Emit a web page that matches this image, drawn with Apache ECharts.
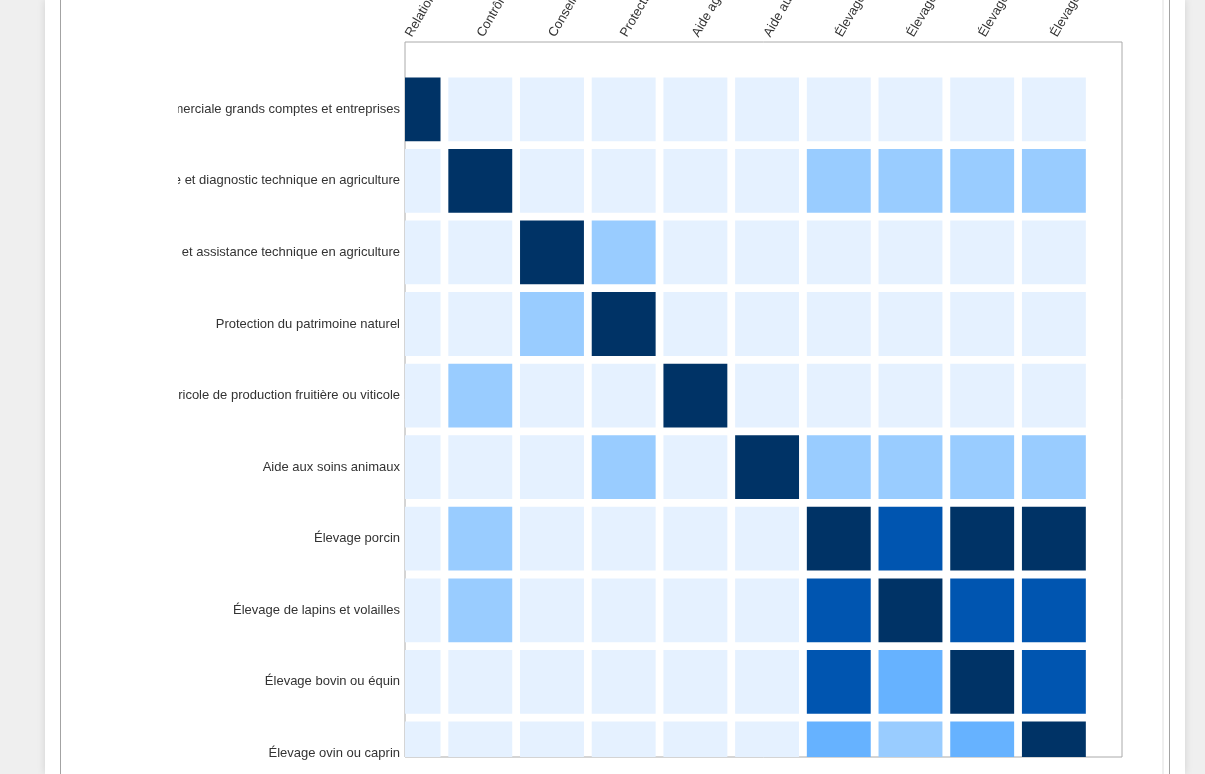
<!DOCTYPE html>
<html>
<head>
<meta charset="utf-8">
<script src="https://cdn.jsdelivr.net/npm/echarts@6/dist/echarts.min.js"></script>
<style>
html,body{margin:0;padding:0;width:1205px;height:774px;overflow:hidden;background:#efefef;}
#card{position:absolute;left:45px;top:0;width:1140px;height:774px;background:#fff;box-shadow:0 0 8px rgba(0,0,0,0.12);}
#frame{position:absolute;left:60px;top:0;width:1108px;height:774px;border-left:1px solid #a3a3a3;border-right:1px solid #a3a3a3;}
#faint{position:absolute;left:1162px;top:0;width:2px;height:774px;background:#efefef;}
#chart{position:absolute;left:178px;top:0;width:982px;height:774px;}
</style>
</head>
<body>
<div id="card"></div>
<div id="frame"></div>
<div id="faint"></div>
<div id="chart"></div>
<script>
// Categories (same for rows and columns)
var categories = [
  "Relation commerciale grands comptes et entreprises",
  "Contrôle et diagnostic technique en agriculture",
  "Conseil et assistance technique en agriculture",
  "Protection du patrimoine naturel",
  "Aide agricole de production fruitière ou viticole",
  "Aide aux soins animaux",
  "Élevage porcin",
  "Élevage de lapins et volailles",
  "Élevage bovin ou équin",
  "Élevage ovin ou caprin"
];
// Similarity level per row (0 = lowest, 4 = highest)
var row0 = [4,0,0,0,0,0,0,0,0,0];
var row1 = [0,4,0,0,0,0,1,1,1,1];
var row2 = [0,0,4,1,0,0,0,0,0,0];
var row3 = [0,0,1,4,0,0,0,0,0,0];
var row4 = [0,1,0,0,4,0,0,0,0,0];
var row5 = [0,0,0,1,0,4,1,1,1,1];
var row6 = [0,1,0,0,0,0,4,3,4,4];
var row7 = [0,1,0,0,0,0,3,4,3,3];
var row8 = [0,0,0,0,0,0,3,2,4,3];
var row9 = [0,0,0,0,0,0,2,1,2,4];
var levelColors = ["#e5f1ff","#99ccff","#66b2ff","#0055b0","#003366"];

var rows = [row0,row1,row2,row3,row4,row5,row6,row7,row8,row9];
var data = [];
rows.forEach(function(r, yi){ r.forEach(function(v, xi){ data.push([xi, yi, v]); }); });
var ticks = categories.map(function(_, i){ return i; });

var chart = echarts.init(document.getElementById('chart'), null, {renderer:'canvas'});
var labelFont = {color:'#333', fontSize:13, fontFamily:'"Liberation Sans", Arial, Helvetica, sans-serif'};
chart.setOption({
  animation:false,
  grid:{left:227, top:42, width:717, height:715, containLabel:false, outerBoundsMode:'none',
    show:true, borderColor:'#aaaaaa', borderWidth:1, backgroundColor:'#fff'},
  xAxis:{
    type:'value', position:'top', min:-0.05, max:9.95,
    axisLine:{show:false}, axisTick:{show:false}, splitLine:{show:false},
    axisLabel:Object.assign({customValues:ticks, rotate:60, margin:6, hideOverlap:false,
      formatter:function(v){ return categories[Math.round(v)]; }}, labelFont)
  },
  yAxis:{
    type:'value', inverse:true, min:-0.94, max:9.05,
    axisLine:{show:false}, axisTick:{show:false}, splitLine:{show:false},
    axisLabel:Object.assign({customValues:ticks, margin:5, hideOverlap:false,
      formatter:function(v){ return categories[Math.round(v)]; }}, labelFont)
  },
  visualMap:{
    show:false, type:'piecewise', dimension:2, seriesIndex:0,
    pieces:levelColors.map(function(c, i){ return {value:i, color:c}; })
  },
  series:[{
    type:'custom',
    data:data,
    encode:{x:0, y:1},
    renderItem:function(params, api){
      var p0 = api.coord([api.value(0)-0.5, api.value(1)-0.5]);
      var p1 = api.coord([api.value(0)+0.5, api.value(1)+0.5]);
      var gap = 3.9;
      var rect = echarts.graphic.clipRectByRect({
        x:Math.min(p0[0],p1[0])+gap, y:Math.min(p0[1],p1[1])+gap,
        width:Math.abs(p1[0]-p0[0])-2*gap, height:Math.abs(p1[1]-p0[1])-2*gap
      }, {x:params.coordSys.x, y:params.coordSys.y, width:params.coordSys.width, height:params.coordSys.height});
      if(!rect) return;
      return {type:'rect', shape:rect, style:{fill:api.visual('color')}};
    }
  }]
});
</script>
</body>
</html>
